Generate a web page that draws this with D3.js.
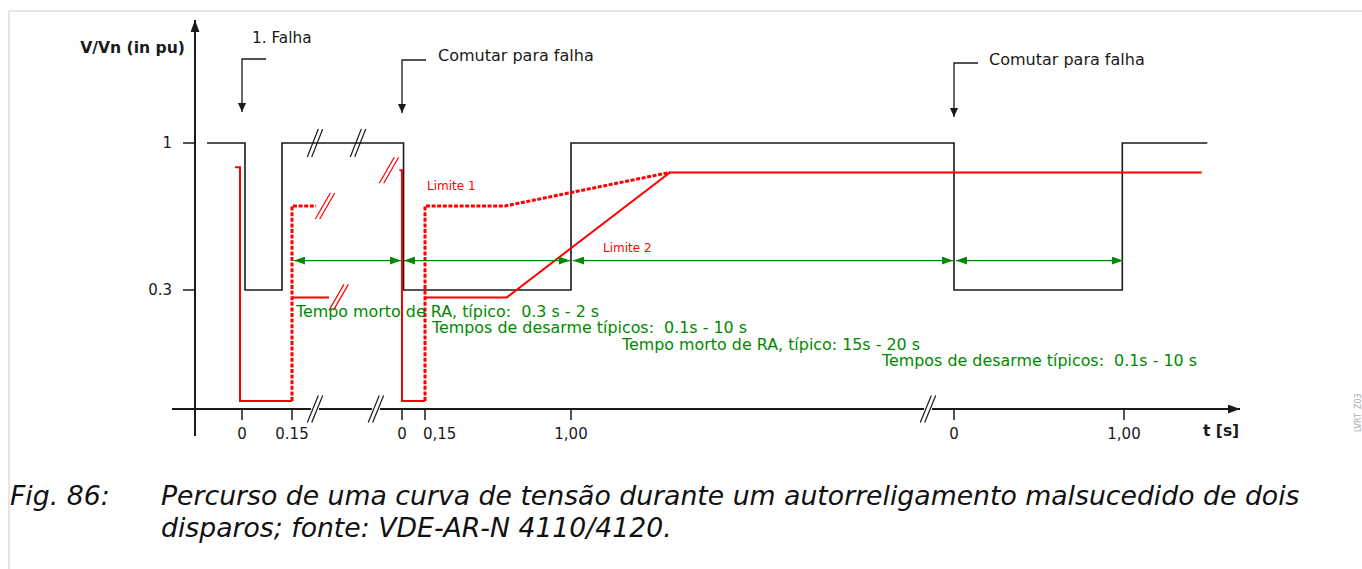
<!DOCTYPE html>
<html>
<head>
<meta charset="utf-8">
<script src="https://cdn.jsdelivr.net/npm/d3@7/dist/d3.min.js"></script>
<style>
  html, body { margin: 0; padding: 0; background: #fff; }
  svg { display: block; font-family: "DejaVu Sans", sans-serif; }
  text { white-space: pre; }
</style>
</head>
<body>
<svg id="chart" width="1362" height="569"></svg>
<script>
// ---- values (time is given per axis section: [section, local t in s], voltage in pu) ----
const sectionTicks = [[0, 0.15], [0, 0.15, 1.0], [0, 1.0]];
const sectionTickLabels = [["0", "0.15"], ["0", "0,15", "1,00"], ["0", "1,00"]];
const yTicks = [1, 0.3];
const yTickLabels = ["1", "0.3"];

// grid voltage: fault, trip, reclose, switch onto fault, trip, reclose
const voltage = [
  [0, -0.105, 1], [0, 0.009, 1], [0, 0.009, 0.3], [0, 0.12, 0.3], [0, 0.12, 1],
  [1, 0.01, 1], [1, 0.01, 0.3], [1, 1.0, 0.3], [1, 1.0, 1],
  [2, 0, 1], [2, 0, 0.3], [2, 0.99, 0.3], [2, 0.99, 1], [2, 1.49, 1]
];
// generator voltage drop after disconnection
const trip1 = [[0, -0.021, 0.885], [0, -0.006, 0.885], [0, -0.006, 0], [0, 0.15, 0]];
const trip2 = [[1, -0.017, 0.87], [1, 0, 0.87], [1, 0, 0], [1, 0.15, 0]];
// Limite 1 (dotted)
const limit1a = [[0, 0.15, 0], [0, 0.15, 0.7], [0, 0.222, 0.7]];
const limit1b = [[1, 0.15, 0], [1, 0.15, 0.7], [1, 0.616, 0.7], [1, 1.576, 0.86]];
// Limite 2 (solid)
const limit2a = [[0, 0.15, 0.28], [0, 0.261, 0.28]];
const limit2b = [[1, 0.15, 0.28], [1, 0.626, 0.28], [1, 1.576, 0.86], [2, 1.457, 0.86]];

// interval arrows and their descriptions
const intervals = [[[0, 0.15], [1, 0]], [[1, 0], [1, 1.0]], [[1, 1.0], [2, 0]], [[2, 0], [2, 1.0]]];
const intervalLevel = 0.44;
const intervalTexts = [
  "Tempo morto de RA, típico:  0.3 s - 2 s",
  "Tempos de desarme típicos:  0.1s - 10 s",
  "Tempo morto de RA, típico: 15s - 20 s",
  "Tempos de desarme típicos:  0.1s - 10 s"
];

// fault events
const events = [[0, 0], [1, 0], [2, 0]];
const eventLabels = ["1. Falha", "Comutar para falha", "Comutar para falha"];

// time-axis interruptions
const axisBreaks = [[0, 0.219], [1, -0.17], [2, -0.153]];
const voltageBreaks = [[0, 0.219, 1], [1, -0.287, 1]];
const limitBreaks = [[1, -0.085, 0.87], [0, 0.249, 0.7], [0, 0.29, 0.28]];

// ---- scales ----
const xSections = [
  d3.scaleLinear().domain([0, 0.15]).range([242, 292]),
  d3.scaleLinear().domain([0, 0.15, 1.0]).range([402, 425, 571]),
  d3.scaleLinear().domain([0, 1.0]).range([954, 1124])
];
const X = (s, t) => xSections[s](t);
const y = d3.scaleLinear().domain([0, 0.3, 1]).range([401, 290, 143]);

const svg = d3.select("#chart");
const axisY = y(0) + 8;
const axisX = 195;
const RED = "#ff0000", GREEN = "#008a00", INK = "#1a1a1a";

// page frame
svg.append("path").attr("d", "M9,569V11H1362").attr("fill", "none")
  .attr("stroke", "#e6e6e6").attr("stroke-width", 2);

// markers
const defs = svg.append("defs");
function marker(id, color, w, h) {
  defs.append("marker").attr("id", id).attr("viewBox", `0 0 ${w} ${h}`)
    .attr("refX", w).attr("refY", h / 2).attr("markerWidth", w).attr("markerHeight", h)
    .attr("markerUnits", "userSpaceOnUse").attr("orient", "auto-start-reverse")
    .append("path").attr("d", `M0,0L${w},${h / 2}L0,${h}Z`).attr("fill", color);
}
marker("ga", GREEN, 11, 8);
marker("ka", INK, 9, 8);
marker("axa", INK, 12, 9);

const line = d3.line().x(d => X(d[0], d[1])).y(d => y(d[2]));

// axes
svg.append("line").attr("x1", 172).attr("x2", 1240).attr("y1", axisY).attr("y2", axisY)
  .attr("stroke", INK).attr("stroke-width", 2).attr("marker-end", "url(#axa)");
svg.append("line").attr("x1", axisX).attr("x2", axisX).attr("y1", 436).attr("y2", 20)
  .attr("stroke", INK).attr("stroke-width", 2).attr("marker-end", "url(#axa)");

// y ticks
yTicks.forEach((v, i) => {
  svg.append("line").attr("x1", axisX - 12).attr("x2", axisX).attr("y1", y(v)).attr("y2", y(v))
    .attr("stroke", INK).attr("stroke-width", 1.5);
  svg.append("text").attr("x", 172).attr("y", y(v) + 5).attr("text-anchor", "end")
    .attr("font-size", 15).attr("fill", INK).text(yTickLabels[i]);
});
svg.append("text").attr("x", 185).attr("y", 53).attr("text-anchor", "end")
  .attr("font-size", 15.6).attr("font-weight", "bold").attr("fill", INK).text("V/Vn (in pu)");

// x ticks per section
sectionTicks.forEach((ticks, s) => {
  ticks.forEach((t, i) => {
    const px = X(s, t), lab = sectionTickLabels[s][i];
    svg.append("line").attr("x1", px).attr("x2", px).attr("y1", axisY).attr("y2", axisY + 11)
      .attr("stroke", INK).attr("stroke-width", 1.5);
    svg.append("text").attr("x", lab === "0,15" ? px - 2 : px).attr("y", 439)
      .attr("text-anchor", lab === "0,15" ? "start" : "middle")
      .attr("font-size", 15).attr("fill", INK).text(lab);
  });
});
svg.append("text").attr("x", 1203).attr("y", 436).attr("font-size", 15.5)
  .attr("font-weight", "bold").attr("fill", INK).text("t [s]");

// break marks
function slashes(cx, cy, color, dx, dy) {
  [-2.2, 2.2].forEach(o => {
    svg.append("line").attr("x1", cx + o - dx / 2).attr("y1", cy + dy / 2)
      .attr("x2", cx + o + dx / 2).attr("y2", cy - dy / 2)
      .attr("stroke", color).attr("stroke-width", 1.2);
  });
}
axisBreaks.forEach(d => {
  svg.append("rect").attr("x", X(d[0], d[1]) - 4).attr("y", axisY - 2).attr("width", 8).attr("height", 4).attr("fill", "#fff");
  slashes(X(d[0], d[1]), axisY, INK, 11, 27);
});

// voltage curve
svg.append("path").datum(voltage).attr("d", line).attr("fill", "none")
  .attr("stroke", INK).attr("stroke-width", 1.6);
voltageBreaks.forEach(d => slashes(X(d[0], d[1]), y(d[2]), INK, 11, 28));

// red limits
[trip1, trip2, limit2a, limit2b].forEach(p => {
  svg.append("path").datum(p).attr("d", line).attr("fill", "none")
    .attr("stroke", RED).attr("stroke-width", 2);
});
[limit1a, limit1b].forEach(p => {
  svg.append("path").datum(p).attr("d", line).attr("fill", "none")
    .attr("stroke", RED).attr("stroke-width", 3).attr("stroke-dasharray", "4,1.6");
});
limitBreaks.forEach(d => slashes(X(d[0], d[1]), y(d[2]), RED, 15, 26));

svg.append("text").attr("x", X(1, 0.15) + 2).attr("y", y(0.7) - 16)
  .attr("font-size", 12).attr("fill", RED).text("Limite 1");
svg.append("text").attr("x", X(1, 1.0) + 32).attr("y", y(intervalLevel) - 9)
  .attr("font-size", 12).attr("fill", RED).text("Limite 2");

// interval arrows
intervals.forEach(([a, b]) => {
  svg.append("line").attr("x1", X(a[0], a[1]) + 2).attr("x2", X(b[0], b[1]) - 1)
    .attr("y1", y(intervalLevel)).attr("y2", y(intervalLevel))
    .attr("stroke", GREEN).attr("stroke-width", 1.3)
    .attr("marker-start", "url(#ga)").attr("marker-end", "url(#ga)");
});
const textAnchors = [[0, 0.15, 4], [1, 0.15, 7], [1, 1.0, 51], [2, 0, -72]];
intervalTexts.forEach((txt, i) => {
  const [s, t, off] = textAnchors[i];
  svg.append("text").attr("x", X(s, t) + off).attr("y", 317 + i * 16.3)
    .attr("font-size", 15.9).attr("fill", GREEN).text(txt);
});

// fault event pointers
const eventTop = [59, 60, 63];
const eventTip = [112, 113, 117];
events.forEach((e, i) => {
  const px = X(e[0], e[1]);
  svg.append("path").attr("d", `M${px + 24},${eventTop[i]}H${px}V${eventTip[i]}`)
    .attr("fill", "none").attr("stroke", INK).attr("stroke-width", 1.3)
    .attr("marker-end", "url(#ka)");
});
svg.append("text").attr("x", X(0, 0) + 10).attr("y", 43).attr("font-size", 15.3)
  .attr("fill", INK).text(eventLabels[0]);
svg.append("text").attr("x", X(1, 0) + 36).attr("y", 61).attr("font-size", 16)
  .attr("fill", INK).text(eventLabels[1]);
svg.append("text").attr("x", X(2, 0) + 35).attr("y", 65).attr("font-size", 16)
  .attr("fill", INK).text(eventLabels[2]);

// figure id
svg.append("text").attr("transform", "translate(1361,432) rotate(-90)")
  .attr("font-size", 8).attr("fill", "#aaa").text("LVRT_Z03");

// caption
const cap = svg.append("g").attr("font-size", 26.7).attr("font-style", "italic").attr("fill", "#111");
cap.append("text").attr("x", 10).attr("y", 505).text("Fig. 86:");
cap.append("text").attr("x", 161).attr("y", 505)
  .text("Percurso de uma curva de tensão durante um autorreligamento malsucedido de dois");
cap.append("text").attr("x", 161).attr("y", 537).text("disparos; fonte: VDE-AR-N 4110/4120.");
</script>
</body>
</html>
